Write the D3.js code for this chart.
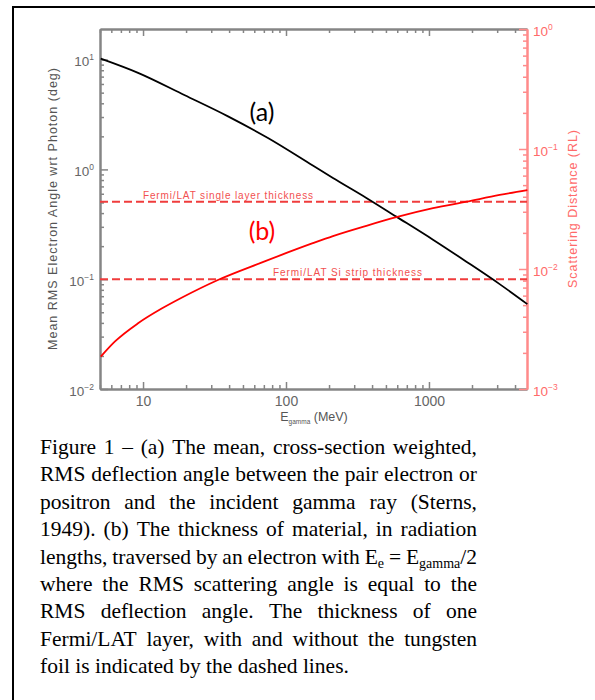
<!DOCTYPE html>
<html>
<head>
<meta charset="utf-8">
<script src="https://cdn.jsdelivr.net/npm/d3@7"></script>
<style>
  html, body { margin: 0; padding: 0; background: #fff; }
  svg { display: block; }
</style>
</head>
<body>
<svg id="chart" width="595" height="700"></svg>
<script>
// ---------------- data ----------------
const energyA = [5.06, 9.23, 19.6, 39.3, 74.8, 154, 213, 365, 591, 1067, 1827, 3121, 4876];
const angleA  = [10.2, 7.57, 4.73, 3.04, 1.93, 1.084, 0.835, 0.55, 0.3715, 0.229, 0.1445, 0.0902, 0.0593];

const energyB = [5.06, 6.34, 9.23, 13.5, 18.6, 33.4, 67.3, 154, 213, 365, 591, 1067, 1827, 3121, 4876];
const distB   = [0.00186, 0.00248, 0.00353, 0.00468, 0.00576, 0.0081, 0.0113, 0.0164, 0.0188, 0.0229, 0.0270, 0.0321, 0.0364, 0.0414, 0.0455];

const thicknessValues = [0.0364, 0.0082];
const thicknessLabels = ["Fermi/LAT single layer thickness", "Fermi/LAT Si strip thickness"];

const xMajorTicks = [10, 100, 1000];
const xTickLabels = ["10", "100", "1000"];
const leftExponents = [1, 0, -1, -2];
const rightExponents = [0, -1, -2, -3];

const leftTitle = "Mean RMS Electron Angle wrt Photon (deg)";
const rightTitle = "Scattering Distance (RL)";

const captionLines = [
  "Figure 1 – (a) The mean, cross-section weighted,",
  "RMS deflection angle between the pair electron or",
  "positron and the incident gamma ray (Sterns,",
  "1949). (b) The thickness of material, in radiation",
  "lengths, traversed by an electron with E_{e} = E_{gamma}/2",
  "where the RMS scattering angle is equal to the",
  "RMS deflection angle. The thickness of one",
  "Fermi/LAT layer, with and without the tungsten",
  "foil is indicated by the dashed lines."
];

// ---------------- setup ----------------
const svg = d3.select("#chart");
const L = 100, R = 527, T = 29, B = 389;
const axisGray = "#858585";
const pink = "#ff8a8a";

svg.append("rect").attr("x", 13).attr("y", 7).attr("width", 700).attr("height", 800)
  .attr("fill", "none").attr("stroke", "#000").attr("stroke-width", 2);

const x = d3.scaleLog().domain([5, 4850]).range([L, R]);
const yL = d3.scaleLog().domain([0.01, 19]).range([B, T]);
const yR = d3.scaleLog().domain([0.001, 1]).range([B, T]);

const isPow10 = v => Math.abs(Math.log10(v) - Math.round(Math.log10(v))) < 1e-9;

const xMinor = x.ticks().filter(v => !isPow10(v));
const yLMinor = yL.ticks().filter(v => !isPow10(v));
const yRMinor = yR.ticks().filter(v => !isPow10(v));

function styleAxis(g, color) {
  g.selectAll("path.domain").attr("stroke", color).attr("stroke-width", 2);
  g.selectAll(".tick line").attr("stroke", color).attr("stroke-width", 1.5);
  g.selectAll("text").attr("font-family", "Liberation Sans, Arial, sans-serif");
}

// bottom axis
const gxMinor = svg.append("g").attr("transform", `translate(0,${B})`)
  .call(d3.axisBottom(x).tickValues(xMinor).tickSize(-4).tickSizeOuter(0).tickFormat(""));
styleAxis(gxMinor, axisGray);
const gx = svg.append("g").attr("transform", `translate(0,${B})`)
  .call(d3.axisBottom(x).tickValues(xMajorTicks).tickSize(-7).tickSizeOuter(0).tickPadding(7)
    .tickFormat((d, i) => xTickLabels[i]));
styleAxis(gx, axisGray);
gx.selectAll("text").attr("font-size", 14).attr("fill", "#666");

// top axis
const gtMinor = svg.append("g").attr("transform", `translate(0,${T})`)
  .call(d3.axisTop(x).tickValues(xMinor).tickSize(-4).tickSizeOuter(0).tickFormat(""));
styleAxis(gtMinor, axisGray);
const gt = svg.append("g").attr("transform", `translate(0,${T})`)
  .call(d3.axisTop(x).tickValues(xMajorTicks).tickSize(-7).tickSizeOuter(0).tickFormat(""));
styleAxis(gt, axisGray);

// left axis
const gyMinor = svg.append("g").attr("transform", `translate(${L},0)`)
  .call(d3.axisLeft(yL).tickValues(yLMinor).tickSize(-4).tickSizeOuter(0).tickFormat(""));
styleAxis(gyMinor, axisGray);
const gy = svg.append("g").attr("transform", `translate(${L},0)`)
  .call(d3.axisLeft(yL).tickValues(leftExponents.map(e => Math.pow(10, e))).tickSize(-8)
    .tickSizeOuter(0).tickPadding(6).tickFormat(""));
styleAxis(gy, axisGray);

function supLabels(g, exps, color) {
  g.selectAll(".tick text").each(function(d, i) {
    const t = d3.select(this).text(null).attr("fill", color).attr("font-size", 13.5).attr("dy", "0.45em");
    t.append("tspan").text("10");
    t.append("tspan").attr("font-size", 8.5).attr("dy", -6).text(exps[i] < 0 ? "\u2212" + Math.abs(exps[i]) : exps[i]);
  });
}
supLabels(gy, leftExponents, "#666");

// right axis
const grMinor = svg.append("g").attr("transform", `translate(${R},0)`)
  .call(d3.axisRight(yR).tickValues(yRMinor).tickSize(-4).tickSizeOuter(0).tickFormat(""));
styleAxis(grMinor, pink);
const gr = svg.append("g").attr("transform", `translate(${R},0)`)
  .call(d3.axisRight(yR).tickValues(rightExponents.map(e => Math.pow(10, e))).tickSize(-8)
    .tickSizeOuter(0).tickPadding(6).tickFormat(""));
styleAxis(gr, pink);
supLabels(gr, rightExponents, "#ff6a6a");

// axis titles
const xt = svg.append("text").attr("x", 314).attr("y", 421).attr("text-anchor", "middle")
  .attr("font-family", "Liberation Sans, Arial, sans-serif").attr("font-size", 12.5).attr("fill", "#555");
xt.append("tspan").text("E");
xt.append("tspan").attr("font-size", 6.5).attr("dy", 3).text("gamma");
xt.append("tspan").attr("dy", -3).text(" (MeV)");

svg.append("text").attr("transform", "translate(57,209) rotate(-90)")
  .attr("text-anchor", "middle").attr("font-family", "Liberation Sans, Arial, sans-serif")
  .attr("font-size", 12.5).attr("fill", "#555").attr("textLength", 282).attr("lengthAdjust", "spacing")
  .text(leftTitle);

svg.append("text").attr("transform", "translate(577,209) rotate(-90)")
  .attr("text-anchor", "middle").attr("font-family", "Liberation Sans, Arial, sans-serif")
  .attr("font-size", 12.5).attr("fill", "#ff6a6a").attr("textLength", 158).attr("lengthAdjust", "spacing")
  .text(rightTitle);

// dashed thickness lines
svg.selectAll("line.thk").data(thicknessValues).join("line").attr("class", "thk")
  .attr("x1", L).attr("x2", R).attr("y1", d => yR(d)).attr("y2", d => yR(d))
  .attr("stroke", "#f03c3c").attr("stroke-width", 2).attr("stroke-dasharray", "8,4");

const labelPos = [{x: 143, w: 170}, {x: 273, w: 149}];
svg.selectAll("text.thk").data(thicknessValues).join("text").attr("class", "thk")
  .attr("x", (d, i) => labelPos[i].x).attr("y", d => yR(d) - 3)
  .attr("font-family", "Liberation Sans, Arial, sans-serif").attr("font-size", 10)
  .attr("fill", "#f25050").attr("textLength", (d, i) => labelPos[i].w).attr("lengthAdjust", "spacing")
  .text((d, i) => thicknessLabels[i]);

// curves
const lineA = d3.line().x(d => x(d[0])).y(d => yL(d[1])).curve(d3.curveMonotoneX);
svg.append("path").datum(energyA.map((e, i) => [e, angleA[i]]))
  .attr("d", lineA).attr("fill", "none").attr("stroke", "#000").attr("stroke-width", 1.8);

const lineB = d3.line().x(d => x(d[0])).y(d => yR(d[1])).curve(d3.curveMonotoneX);
svg.append("path").datum(energyB.map((e, i) => [e, distB[i]]))
  .attr("d", lineB).attr("fill", "none").attr("stroke", "#ff0000").attr("stroke-width", 1.8);

// (a) and (b)
svg.append("text").attr("x", 262).attr("y", 121).attr("text-anchor", "middle")
  .attr("font-family", "Lato, Open Sans, sans-serif").attr("font-size", 25).attr("fill", "#000").text("(a)");
svg.append("text").attr("x", 262).attr("y", 240).attr("text-anchor", "middle")
  .attr("font-family", "Lato, Open Sans, sans-serif").attr("font-size", 25).attr("fill", "#ff0000").text("(b)");

// caption (justified)
const capLeft = 40, capRight = 477, capTop = 454, capStep = 27.4;
const cap = svg.append("g").attr("font-family", "Liberation Serif, Times New Roman, serif")
  .attr("font-size", 21.5).attr("fill", "#000");

function parseWord(w) {
  const segs = [];
  const re = /_\{([^}]*)\}/g;
  let last = 0, m;
  while ((m = re.exec(w)) !== null) {
    if (m.index > last) segs.push({t: w.slice(last, m.index), sub: false});
    segs.push({t: m[1], sub: true});
    last = re.lastIndex;
  }
  if (last < w.length) segs.push({t: w.slice(last), sub: false});
  return segs;
}

captionLines.forEach((line, li) => {
  const y = capTop + li * capStep;
  const words = line.split(" ");
  const nodes = words.map(w => {
    const t = cap.append("text").attr("y", y);
    let shifted = false;
    parseWord(w).forEach(s => {
      const ts = t.append("tspan").text(s.t);
      if (s.sub && !shifted) { ts.attr("font-size", 14).attr("dy", 4); shifted = true; }
      else if (!s.sub && shifted) { ts.attr("dy", -4); shifted = false; }
      else if (s.sub) ts.attr("font-size", 14);
    });
    return t;
  });
  const widths = nodes.map(n => n.node().getComputedTextLength());
  const total = d3.sum(widths);
  const last = li === captionLines.length - 1;
  const gap = last ? 5.4 : (capRight - capLeft - total) / (words.length - 1);
  let cx = capLeft;
  nodes.forEach((n, i) => { n.attr("x", cx); cx += widths[i] + gap; });
});
</script>
</body>
</html>
